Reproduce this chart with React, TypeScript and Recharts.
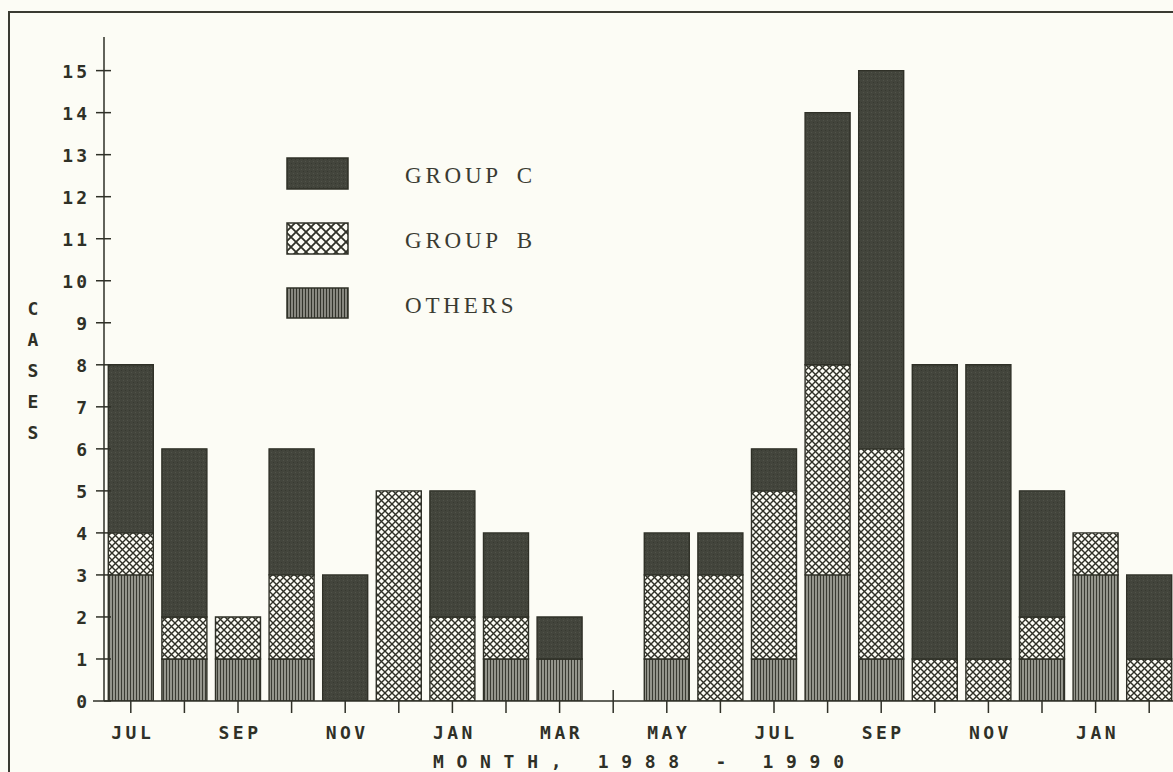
import { Bar, BarChart, XAxis, YAxis } from "recharts";

// Jul 1988 – Feb 1990, one bar per month
const periods = [
  "1988-07", "1988-08", "1988-09", "1988-10", "1988-11", "1988-12",
  "1989-01", "1989-02", "1989-03", "1989-04", "1989-05", "1989-06",
  "1989-07", "1989-08", "1989-09", "1989-10", "1989-11", "1989-12",
  "1990-01", "1990-02",
];
const monthLabels = [
  "JUL", "", "SEP", "", "NOV", "", "JAN", "", "MAR", "",
  "MAY", "", "JUL", "", "SEP", "", "NOV", "", "JAN", "",
];
const others = [3, 1, 1, 1, 0, 0, 0, 1, 1, 0, 1, 0, 1, 3, 1, 0, 0, 1, 3, 0];
const groupB = [1, 1, 1, 2, 0, 5, 2, 1, 0, 0, 2, 3, 4, 5, 5, 1, 1, 1, 1, 1];
const groupC = [4, 4, 0, 3, 3, 0, 3, 2, 1, 0, 1, 1, 1, 6, 9, 7, 7, 3, 0, 2];
const yTicks = [0, 1, 2, 3, 4, 5, 6, 7, 8, 9, 10, 11, 12, 13, 14, 15];

const INK = "#2f3027";
const PAPER = "#fcfcf5";
const MONO = "'DejaVu Sans Mono', monospace";

const chartData = periods.map((p, i) => ({
  period: p,
  others: others[i],
  groupB: groupB[i],
  groupC: groupC[i],
}));

const legendItems = [
  { label: "GROUP C", fill: "url(#darkFill)" },
  { label: "GROUP B", fill: "url(#crossLegend)" },
  { label: "OTHERS", fill: "url(#stripesLegend)" },
];

function Patterns() {
  return (
    <svg width={0} height={0} style={{ position: "absolute" }}>
      <defs>
        <pattern id="darkFill" width={4} height={4} patternUnits="userSpaceOnUse">
          <rect width={4} height={4} fill="#43453c" />
          <rect x={1} y={2} width={1} height={1} fill="#373931" />
          <rect x={3} y={0} width={1} height={1} fill="#51534a" />
        </pattern>
        <pattern id="cross" width={7} height={7} patternUnits="userSpaceOnUse">
          <rect width={7} height={7} fill={PAPER} />
          <path d="M0,0 L7,7 M7,0 L0,7" stroke={INK} strokeWidth={1.4} />
        </pattern>
        <pattern id="crossLegend" width={10} height={10} patternUnits="userSpaceOnUse">
          <rect width={10} height={10} fill={PAPER} />
          <path d="M0,0 L10,10 M10,0 L0,10" stroke={INK} strokeWidth={1.8} />
        </pattern>
        <pattern id="stripes" width={3} height={3} patternUnits="userSpaceOnUse">
          <rect width={3} height={3} fill="#b2b2a9" />
          <line x1={1.5} y1={0} x2={1.5} y2={3} stroke="#3a3b33" strokeWidth={1.5} />
        </pattern>
        <pattern id="stripesLegend" width={3} height={3} patternUnits="userSpaceOnUse">
          <rect width={3} height={3} fill="#acaca3" />
          <line x1={1.5} y1={0} x2={1.5} y2={3} stroke="#33342c" strokeWidth={1.6} />
        </pattern>
      </defs>
    </svg>
  );
}

const YTick = ({ x, y, payload }: any) => (
  <g>
    <line
      x1={payload.value === 0 ? x - 11 : x - 8}
      x2={x + 7}
      y1={y}
      y2={y}
      stroke={INK}
      strokeWidth={1.5}
    />
    <text
      x={x - 14}
      y={y + 7}
      textAnchor="end"
      fontFamily={MONO}
      fontWeight="bold"
      fontSize={18}
      letterSpacing={3}
      fill={INK}
    >
      {payload.value}
    </text>
  </g>
);

const XTick = ({ x, y, payload }: any) => {
  const i = periods.indexOf(payload.value);
  return (
    <g>
      <line
        x1={x}
        x2={x}
        y1={i === 9 ? y - 11 : y}
        y2={y + 12}
        stroke={INK}
        strokeWidth={1.5}
      />
      <text
        x={x + 2}
        y={y + 38}
        textAnchor="middle"
        fontFamily={MONO}
        fontWeight="bold"
        fontSize={18}
        letterSpacing={3.5}
        fill={INK}
      >
        {monthLabels[i]}
      </text>
    </g>
  );
};

const CasesLabel = () => (
  <text fontFamily={MONO} fontWeight="bold" fontSize={18} fill={INK} textAnchor="middle">
    {"CASES".split("").map((ch, i) => (
      <tspan key={i} x={33} y={315 + i * 31}>
        {ch}
      </tspan>
    ))}
  </text>
);

const MonthLabel = () => (
  <text
    x={433}
    y={768}
    fontFamily={MONO}
    fontWeight="bold"
    fontSize={18}
    letterSpacing={12.7}
    fill={INK}
    style={{ whiteSpace: "pre" }}
  >
    MONTH, 1988 - 1990
  </text>
);

export default function App() {
  return (
    <div
      style={{
        position: "absolute",
        left: 0,
        top: 0,
        width: 1173,
        height: 772,
        overflow: "hidden",
        background: PAPER,
      }}
    >
      <Patterns />
      <div
        style={{
          position: "absolute",
          left: 8,
          top: 11,
          width: 1300,
          height: 900,
          border: `2px solid #3a3b32`,
        }}
      />
      <BarChart
        width={1176}
        height={772}
        data={chartData}
        margin={{ top: 37, right: 0, bottom: 0, left: 0 }}
        barCategoryGap="8%"
        style={{ position: "absolute", left: 0, top: 0 }}
      >
        <XAxis
          dataKey="period"
          height={71}
          axisLine={{ stroke: INK, strokeWidth: 1.5 }}
          tickLine={false}
          tickSize={0}
          tickMargin={0}
          interval={0}
          tick={<XTick />}
          label={<MonthLabel />}
        />
        <YAxis
          type="number"
          width={104}
          domain={[0, 15.8]}
          ticks={yTicks}
          allowDataOverflow
          axisLine={{ stroke: INK, strokeWidth: 1.5 }}
          tickLine={false}
          tickSize={0}
          tickMargin={0}
          interval={0}
          tick={<YTick />}
          label={<CasesLabel />}
        />
        <Bar dataKey="others" stackId="a" fill="url(#stripes)" stroke={INK} strokeWidth={1.4} isAnimationActive={false} />
        <Bar dataKey="groupB" stackId="a" fill="url(#cross)" stroke={INK} strokeWidth={1.4} isAnimationActive={false} />
        <Bar dataKey="groupC" stackId="a" fill="url(#darkFill)" stroke={INK} strokeWidth={1.4} isAnimationActive={false} />
      </BarChart>
      <div style={{ position: "absolute", left: 286, top: 157 }}>
        {legendItems.map((item, i) => (
          <div
            key={item.label}
            style={{ position: "absolute", left: 0, top: i * 65, width: 320, height: 32 }}
          >
            <svg width={64} height={33} style={{ position: "absolute", left: 0, top: 0 }}>
              <rect x={1} y={1} width={61} height={i === 2 ? 30 : 31} fill={item.fill} stroke={INK} strokeWidth={1.5} />
            </svg>
            <span
              style={{
                position: "absolute",
                left: 119,
                top: 6,
                fontFamily: "'Liberation Serif', serif",
                fontSize: 23,
                letterSpacing: 3.8,
                wordSpacing: 6,
                color: "#3a3b32",
                whiteSpace: "pre",
                lineHeight: "26px",
              }}
            >
              {item.label}
            </span>
          </div>
        ))}
      </div>
    </div>
  );
}
